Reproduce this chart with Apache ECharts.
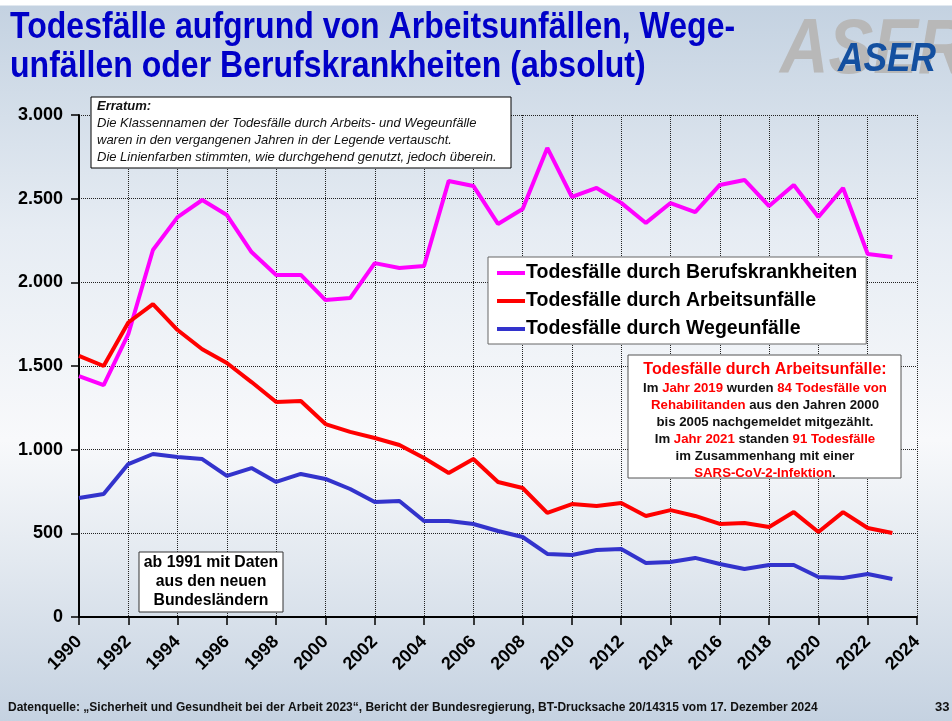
<!DOCTYPE html>
<html>
<head>
<meta charset="utf-8">
<script src="https://cdn.jsdelivr.net/npm/echarts@6/dist/echarts.min.js"></script>
<style>
  html, body { margin: 0; padding: 0; }
  body {
    width: 952px; height: 721px; overflow: hidden;
    background: linear-gradient(to bottom, #ffffff 0px, #ffffff 5px, #c4d2e1 6px, #e6ecf3 230px, #f8f9fb 440px, #e3e9f0 560px, #c5d2e1 721px);
  }
  #chart { width: 952px; height: 721px; }
</style>
</head>
<body>
<div id="chart"></div>
<script>
// Jahre 1990 - 2023
const years = [1990, 1991, 1992, 1993, 1994, 1995, 1996, 1997, 1998, 1999,
  2000, 2001, 2002, 2003, 2004, 2005, 2006, 2007, 2008, 2009,
  2010, 2011, 2012, 2013, 2014, 2015, 2016, 2017, 2018, 2019,
  2020, 2021, 2022, 2023]

const berufskrankheiten = [1440, 1386, 1690, 2193, 2390, 2492, 2402, 2181, 2044, 2044,
  1894, 1906, 2115, 2086, 2098, 2606, 2576, 2349, 2438, 2803,
  2510, 2564, 2475, 2355, 2474, 2420, 2582, 2612, 2456, 2582,
  2390, 2564, 2169, 2151]

const arbeitsunfaelle = [1560, 1500, 1760, 1870, 1715, 1600, 1518, 1404, 1285, 1291,
  1153, 1106, 1070, 1028, 950, 861, 944, 807, 771, 622,
  675, 663, 681, 604, 639, 604, 556, 562, 538, 627,
  508, 627, 532, 502]

const wegeunfaelle = [711, 735, 914, 974, 956, 944, 843, 890, 807, 855,
  825, 765, 687, 693, 574, 574, 556, 514, 478, 377,
  371, 400, 406, 323, 329, 353, 317, 287, 311, 311,
  239, 233, 257, 227]

const seriesNames = ['Todesfälle durch Berufskrankheiten', 'Todesfälle durch Arbeitsunfälle', 'Todesfälle durch Wegeunfälle']
const seriesColors = ['#ff00ff', '#ff0000', '#3333cc']

const zip = (vals) => years.map((y, i) => [y, vals[i]])

const font = 'Liberation Sans, Arial, sans-serif'

const chart = echarts.init(document.getElementById('chart'))

let option = {
  backgroundColor: 'transparent',
  animation: false,
  textStyle: { fontFamily: font },
  grid: { left: 79, right: 35, top: 115, bottom: 104, containLabel: false },
  legend: {
    orient: 'vertical',
    left: 488,
    top: 257,
    backgroundColor: '#ffffff',
    borderColor: '#666666',
    borderWidth: 1,
    padding: [6, 9, 5, 9],
    itemGap: 8,
    icon: 'rect',
    itemWidth: 28,
    itemHeight: 4,
    textStyle: { fontSize: 19.5, fontWeight: 'bold', color: '#000', fontFamily: font, padding: [0, 0, 0, -4] },
    data: seriesNames
  },
  xAxis: {
    type: 'value',
    min: 1990,
    max: 2024,
    interval: 2,
    axisLine: { show: true, onZero: false, lineStyle: { color: '#000', width: 2 } },
    axisTick: { show: true, length: 8, lineStyle: { color: '#000', width: 1.5 } },
    axisLabel: {
      rotate: 45,
      margin: 22,
      fontSize: 18,
      fontWeight: 'bold',
      color: '#000',
      fontFamily: font,
      formatter: (v) => String(v)
    },
    splitLine: { show: true, lineStyle: { type: 'dotted', color: '#222', width: 1 } }
  },
  yAxis: {
    type: 'value',
    min: 0,
    max: 3000,
    interval: 500,
    axisLine: { show: true, lineStyle: { color: '#000', width: 2 } },
    axisTick: { show: true, length: 8, lineStyle: { color: '#000', width: 1.5 } },
    axisLabel: {
      margin: 16,
      fontSize: 18,
      fontWeight: 'bold',
      color: '#000',
      fontFamily: font,
      formatter: (v) => v === 0 ? '0' : v.toLocaleString('de-DE')
    },
    splitLine: { show: true, lineStyle: { type: 'dotted', color: '#222', width: 1 } }
  },
  series: [
    {
      name: seriesNames[0], type: 'line', data: zip(berufskrankheiten),
      symbol: 'none', color: seriesColors[0], lineStyle: { width: 4, color: seriesColors[0] }, z: 3
    },
    {
      name: seriesNames[1], type: 'line', data: zip(arbeitsunfaelle),
      symbol: 'none', color: seriesColors[1], lineStyle: { width: 4, color: seriesColors[1] }, z: 4
    },
    {
      name: seriesNames[2], type: 'line', data: zip(wegeunfaelle),
      symbol: 'none', color: seriesColors[2], lineStyle: { width: 4, color: seriesColors[2] }, z: 2
    }
  ],
  graphic: [
    // Titel (schmale Schrift nachgebildet)
    {
      type: 'text', x: 10, y: 9, scaleX: 0.89, z: 10,
      style: {
        text: 'Todesfälle aufgrund von Arbeitsunfällen, Wege-\nunfällen oder Berufskrankheiten (absolut)',
        fill: '#0000c8', font: 'bold 36px Liberation Sans, Arial, sans-serif', lineHeight: 38.5
      }
    },
    // Logo
    {
      type: 'text', x: 780, y: 12, scaleX: 0.86, z: 5,
      style: { text: 'ASER', fill: '#b8b8b8', font: 'italic bold 78px Liberation Sans, Arial, sans-serif' }
    },
    {
      type: 'text', x: 838, y: 39, scaleX: 0.86, z: 6,
      style: { text: 'ASER', fill: '#1450a0', font: 'italic bold 41px Liberation Sans, Arial, sans-serif' }
    },
    // Erratum
    {
      type: 'rect', z: 20, shape: { x: 91, y: 97, width: 420, height: 71 },
      style: { fill: '#ffffff', stroke: '#000', lineWidth: 1 }
    },
    {
      type: 'text', z: 21, x: 97, y: 98,
      style: {
        text: '{b|Erratum:}\nDie Klassennamen der Todesfälle durch Arbeits- und Wegeunfälle\nwaren in den vergangenen Jahren in der Legende vertauscht.\nDie Linienfarben stimmten, wie durchgehend genutzt, jedoch überein.',
        fill: '#111', font: 'italic 13px Liberation Sans, Arial, sans-serif', lineHeight: 17,
        rich: { b: { fontWeight: 'bold', fontStyle: 'italic', fontSize: 13, lineHeight: 17 } }
      }
    },
    // Hinweis Arbeitsunfälle
    {
      type: 'rect', z: 20, shape: { x: 628, y: 355, width: 273, height: 123 },
      style: { fill: '#ffffff', stroke: '#555', lineWidth: 1 }
    },
    {
      type: 'text', z: 21, x: 765, y: 359,
      style: {
        text: '{t|Todesfälle durch Arbeitsunfälle:}\nIm {r|Jahr 2019} wurden {r|84 Todesfälle von}\n{r|Rehabilitanden} aus den Jahren 2000\nbis 2005 nachgemeldet mitgezählt.\nIm {r|Jahr 2021} standen {r|91 Todesfälle}\nim Zusammenhang mit einer\n{r|SARS-CoV-2-Infektion}.',
        align: 'center',
        fill: '#111', font: 'bold 13.2px Liberation Sans, Arial, sans-serif', lineHeight: 17,
        rich: {
          t: { fill: '#ff0000', fontWeight: 'bold', fontSize: 16, lineHeight: 21 },
          r: { fill: '#ff0000', fontWeight: 'bold', fontSize: 13.2, lineHeight: 17 }
        }
      }
    },
    // Neue Bundesländer
    {
      type: 'rect', z: 20, shape: { x: 139, y: 552, width: 144, height: 60 },
      style: { fill: '#ffffff', stroke: '#333', lineWidth: 1 }
    },
    {
      type: 'text', z: 21, x: 211, y: 553,
      style: {
        text: 'ab 1991 mit Daten\naus den neuen\nBundesländern',
        align: 'center',
        fill: '#000', font: 'bold 15.8px Liberation Sans, Arial, sans-serif', lineHeight: 19
      }
    },
    // Quelle
    {
      type: 'text', z: 10, x: 8, y: 702,
      style: {
        text: 'Datenquelle: „Sicherheit und Gesundheit bei der Arbeit 2023“, Bericht der Bundesregierung, BT-Drucksache 20/14315 vom 17. Dezember 2024',
        fill: '#111', font: 'bold 12px Liberation Sans, Arial, sans-serif'
      }
    },
    {
      type: 'text', z: 10, x: 935, y: 701,
      style: { text: '33', fill: '#111', font: 'bold 13px Liberation Sans, Arial, sans-serif' }
    }
  ]
}
chart.setOption(option)
</script>
</body>
</html>
